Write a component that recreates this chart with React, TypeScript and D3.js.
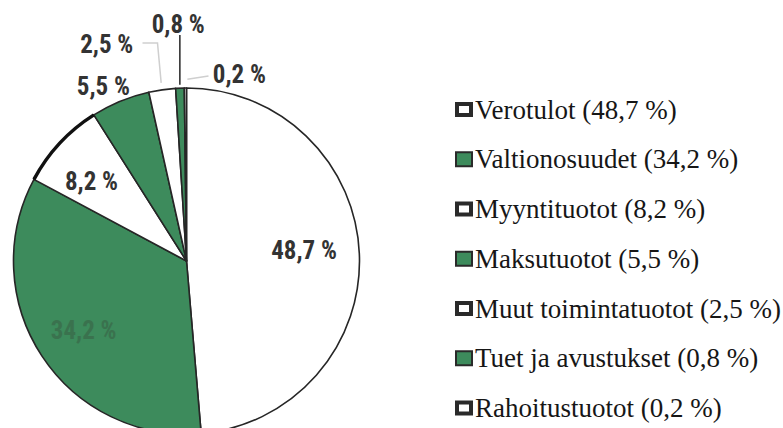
import React from "react";
import * as d3 from "d3";

const categories = [
  "Verotulot",
  "Valtionosuudet",
  "Myyntituotot",
  "Maksutuotot",
  "Muut toimintatuotot",
  "Tuet ja avustukset",
  "Rahoitustuotot",
];
const shares = [48.7, 34.2, 8.2, 5.5, 2.5, 0.8, 0.2];
const pieLabels = ["48,7 %", "34,2 %", "8,2 %", "5,5 %", "2,5 %", "0,8 %", "0,2 %"];
const legendLabels = [
  "Verotulot (48,7 %)",
  "Valtionosuudet (34,2 %)",
  "Myyntituotot (8,2 %)",
  "Maksutuotot (5,5 %)",
  "Muut toimintatuotot (2,5 %)",
  "Tuet ja avustukset (0,8 %)",
  "Rahoitustuotot (0,2 %)",
];

const W = 783;
const H = 428;
const GREEN = "#3d8b5c";
const DARK = "#262626";
const fills = ["#ffffff", GREEN, "#ffffff", GREEN, "#ffffff", GREEN, "#ffffff"];

// label placement (polar: angle in degrees clockwise from top, radius in px)
const labelPolar: [number, number][] = [
  [85, 118],
  [236, 124],
  [310, 124],
  [334.5, 193],
  [339.8, 231],
  [358, 237],
  [15.8, 194],
];
const labelColors = ["#333", "#3a6a4a", "#333", "#333", "#333", "#333", "#333"];

export default function App() {
  const cx = 186.5;
  const cy = 261;
  const R = 173;

  const pie = d3.pie<number>().sort(null).value((d) => d);
  const arcs = pie(shares);
  const arc = d3.arc<d3.PieArcDatum<number>>().innerRadius(0).outerRadius(R);
  const rim = d3.arc<d3.PieArcDatum<number>>().innerRadius(R).outerRadius(R);

  const polar = (deg: number, r: number) => {
    const a = (deg * Math.PI) / 180;
    return [Math.sin(a) * r, -Math.cos(a) * r];
  };
  const mid = (a: d3.PieArcDatum<number>) => (a.startAngle + a.endAngle) / 2;
  const onR = (a: d3.PieArcDatum<number>, r: number) => [
    Math.sin(mid(a)) * r,
    -Math.cos(mid(a)) * r,
  ];

  const legendY = d3.scaleLinear().domain([0, categories.length - 1]).range([118.5, 417]);

  const p25 = onR(arcs[4], R * 1.04);
  const p08 = onR(arcs[5], R * 1.02);
  const p02 = onR(arcs[6], R * 1.05);

  return (
    <div style={{ position: "absolute", left: 0, top: 0 }}>
      <svg width={W} height={H} style={{ display: "block", background: "#fff" }}>
        <g transform={`translate(${cx},${cy})`}>
          {arcs.map((a, i) => (
            <path key={i} d={arc(a) || ""} fill={fills[i]} stroke={DARK} strokeWidth={1.6} strokeLinejoin="round" />
          ))}
          <path d={rim(arcs[2]) || ""} fill="none" stroke="#111" strokeWidth={3.5} />
          <path d={`M${-44},${-218}H${-29}L${p25[0]},${p25[1]}`} fill="none" stroke="#cfcfcf" strokeWidth={1.5} />
          <path d={`M${p08[0]},${-226}L${p08[0]},${p08[1]}`} fill="none" stroke="#333" strokeWidth={1.6} />
          <path d={`M${22},${-185}L${p02[0] + 2},${p02[1]}`} fill="none" stroke="#cfcfcf" strokeWidth={1.5} />
          {pieLabels.map((t, i) => {
            const [x, y] = polar(labelPolar[i][0], labelPolar[i][1]);
            return (
              <text key={i} x={x} y={y + 8.5} textAnchor="middle" fontFamily="Roboto Condensed" fontWeight="bold"
                fontSize={25} fill={labelColors[i]} opacity={i === 1 ? 0.75 : 1}>
                {t}
              </text>
            );
          })}
        </g>
        {legendLabels.map((t, i) => {
          const y = legendY(i);
          const green = fills[i] === GREEN;
          return (
            <rect key={"r" + i} x={green ? 456 : 457} y={y - (green ? 16 : 14.5)} width={green ? 16 : 14}
              height={green ? 14 : 11} fill={fills[i]} stroke="#2a2a2a" strokeWidth={green ? 2 : 4} />
          );
        })}
        {legendLabels.map((t, i) => (
          <text key={"t" + i} x={475} y={legendY(i)} fontFamily="Times New Roman" fontSize={27} fill="#161616">
            {t}
          </text>
        ))}
      </svg>
    </div>
  );
}
